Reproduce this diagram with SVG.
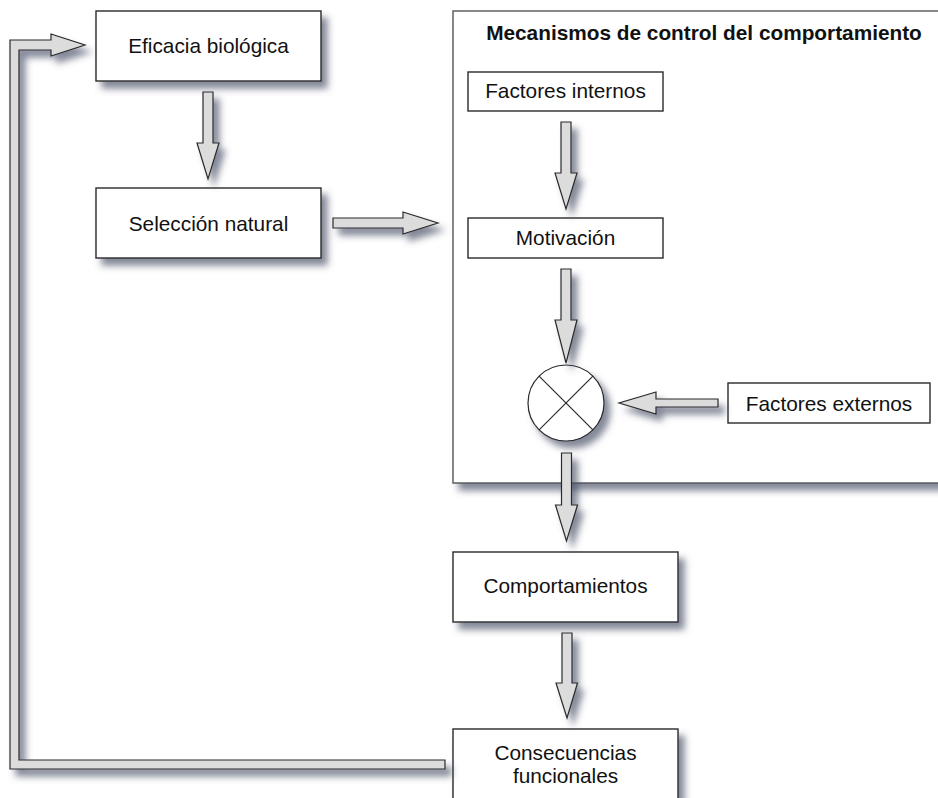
<svg xmlns="http://www.w3.org/2000/svg" width="938" height="798" viewBox="0 0 938 798">
  <defs>
    <filter id="shadow" x="-20%" y="-20%" width="150%" height="150%">
      <feGaussianBlur in="SourceAlpha" stdDeviation="3.5"/>
      <feOffset dx="6" dy="7" result="off"/>
      <feFlood flood-color="#4a5168" flood-opacity="0.68"/>
      <feComposite in2="off" operator="in" result="sh"/>
      <feMerge>
        <feMergeNode in="sh"/>
        <feMergeNode in="SourceGraphic"/>
      </feMerge>
    </filter>
  </defs>
  <style>
    .box { fill: #ffffff; stroke: #2a2a2a; stroke-width: 1.4; }
    .frame { fill: #ffffff; stroke: #555555; stroke-width: 1.4; }
    .label { font-family: "Liberation Sans", Arial, Helvetica, sans-serif; font-size: 20.8px; fill: #111111; text-anchor: middle; }
    .title { font-weight: bold; }
    .arrow { fill: #dcdcdc; stroke: #2a2a2a; stroke-width: 1.2; stroke-linejoin: miter; }
    .cross { stroke: #2a2a2a; stroke-width: 1.2; }
  </style>

  <rect width="938" height="798" fill="#ffffff"/>

  <!-- control mechanisms frame -->
  <g id="mecanismos">
    <rect class="frame" x="453" y="11" width="500" height="472" filter="url(#shadow)"/>
    <text class="label title" x="704" y="40">Mecanismos de control del comportamiento</text>
  </g>

  <g id="eficacia">
    <rect class="box" x="96" y="11" width="225" height="70" filter="url(#shadow)"/>
    <text class="label" x="208.5" y="53">Eficacia biológica</text>
  </g>

  <g id="seleccion">
    <rect class="box" x="96" y="188" width="225" height="70" filter="url(#shadow)"/>
    <text class="label" x="208.5" y="231">Selección natural</text>
  </g>

  <g id="factores-internos">
    <rect class="box" x="468" y="72" width="195" height="39"/>
    <text class="label" x="565.5" y="98">Factores internos</text>
  </g>

  <g id="motivacion">
    <rect class="box" x="468" y="218" width="195" height="40"/>
    <text class="label" x="565.5" y="245">Motivación</text>
  </g>

  <g id="integrador">
    <g filter="url(#shadow)">
      <circle cx="566" cy="403" r="38" fill="#ffffff" stroke="#2a2a2a" stroke-width="1.2"/>
    </g>
    <line class="cross" x1="539.1" y1="376.1" x2="592.9" y2="429.9"/>
    <line class="cross" x1="592.9" y1="376.1" x2="539.1" y2="429.9"/>
  </g>

  <g id="factores-externos">
    <rect class="box" x="728" y="383" width="202" height="40"/>
    <text class="label" x="829" y="411">Factores externos</text>
  </g>

  <g id="comportamientos">
    <rect class="box" x="453" y="552" width="225" height="70" filter="url(#shadow)"/>
    <text class="label" x="565.5" y="593">Comportamientos</text>
  </g>

  <g id="consecuencias">
    <rect class="box" x="453" y="729" width="225" height="90" filter="url(#shadow)"/>
    <text class="label" x="565.5" y="760">Consecuencias</text>
    <text class="label" x="565.5" y="783">funcionales</text>
  </g>

  <!-- block arrows -->
  <g id="connectors" filter="url(#shadow)">
    <!-- feedback loop back to fitness -->
    <path class="arrow" d="M445,760 L19,760 L19,50 L51,50 L51,56 L85,45 L51,34 L51,40 L10,40 L10,769 L445,769 Z"/>
    <!-- fitness to natural selection -->
    <path class="arrow" d="M203,92 L213,92 L213,143 L219,143 L208,179 L197,143 L203,143 Z"/>
    <!-- natural selection to control mechanisms -->
    <path class="arrow" d="M333,218 L403,218 L403,212 L438,223 L403,234 L403,228 L333,228 Z"/>
    <!-- internal factors to motivation -->
    <path class="arrow" d="M561,122 L571,122 L571,173 L577,173 L566,209 L555,173 L561,173 Z"/>
    <!-- motivation to integrator -->
    <path class="arrow" d="M561,269 L571,269 L571,320 L577,320 L566,363 L555,320 L561,320 Z"/>
    <!-- external factors to integrator -->
    <path class="arrow" d="M718,399 L718,407 L656,407 L656,414 L619,403 L656,392 L656,399 Z"/>
    <!-- integrator to behaviours -->
    <path class="arrow" d="M561.5,453 L571.5,453 L571.5,505 L577.5,505 L566.5,541 L555.5,505 L561.5,505 Z"/>
    <!-- behaviours to functional consequences -->
    <path class="arrow" d="M562,633 L572,633 L572,683 L577.5,683 L567,718 L556,683 L562,683 Z"/>
  </g>
</svg>
